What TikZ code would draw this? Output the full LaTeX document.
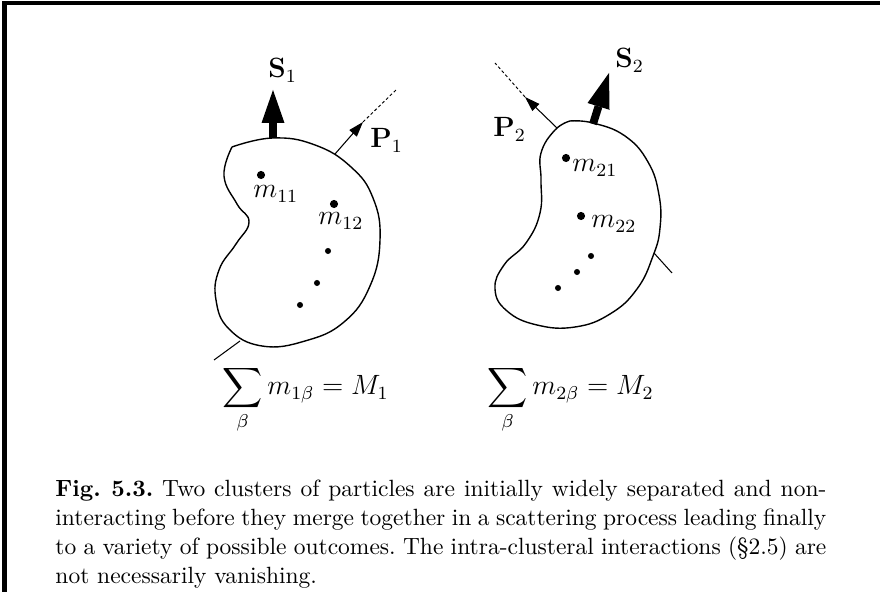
\documentclass[tikz,border=0pt]{standalone}
\usepackage{amsmath}
\usetikzlibrary{arrows.meta}
\begin{document}
\begin{tikzpicture}[x=0.43pt,y=-0.43pt,
  frameline/.style={line width=2.1pt},
  blob/.style={line width=0.6pt},
  thinline/.style={line width=0.45pt},
  parrow/.style={line width=0.45pt,-{Triangle[length=6.5pt,width=4.2pt]}},
  dashline/.style={line width=0.4pt,dash pattern=on 1.3pt off 1pt},
  spinshaft/.style={line width=3.4pt},
  spinhead/.style={fill=black},
  bigdot/.style={fill=black},
  lab/.style={font=\fontsize{12}{14}\selectfont, inner sep=0pt, anchor=base west},
  captxt/.style={anchor=north west, text width=331.5pt, align=justify, inner sep=0pt,
                 font=\fontsize{10.1}{12.5}\selectfont}
]
\useasboundingbox (0,0) rectangle (880,592);
% frame
\coordinate (ftl) at (4.5,3);
\coordinate (ftr) at (880,3);
\coordinate (fbl) at (4.5,592);
\draw[frameline] (ftr) -- (ftl) -- (fbl);

% ---------------- cluster 1 ----------------
\draw[blob] plot[smooth, tension=0.75] coordinates {(232,147) (224,176) (237,204) (249,222) (236,244) (219,270) (216,300) (229,329) (262,346) (305,341) (344,322) (370,286) (380,240) (373,198) (351,167) (315,145) (273,138) (232,147)};

\coordinate (b1s) at (273,138);
\coordinate (b1h) at (273,123);
\coordinate (b1t) at (273,90);
\draw[spinshaft] (b1s) -- (b1h);
\fill[spinhead] (b1t) -- (284.5,123) -- (261.5,123) -- cycle;

\coordinate (p1s) at (335,154);
\coordinate (p1t) at (363,122);
\coordinate (p1e) at (397,89);
\draw[parrow] (p1s) -- (p1t);
\draw[dashline] (p1t) -- (p1e);

\coordinate (x1a) at (240,341);
\coordinate (x1b) at (214,360);
\draw[thinline] (x1a) -- (x1b);

\fill[bigdot] (261,175) circle[radius=1.75pt];
\fill[bigdot] (334,204) circle[radius=1.75pt];
\fill[bigdot] (328,251) circle[radius=1.3pt];
\fill[bigdot] (317,283) circle[radius=1.3pt];
\fill[bigdot] (300,305) circle[radius=1.3pt];

\node[lab] (S1) at (268,78) {$\mathbf{S}_1$};
\node[lab] (P1) at (370,148) {$\mathbf{P}_1$};
\node[lab] (m11) at (253,198) {$m_{11}$};
\node[lab] (m12) at (318,225) {$m_{12}$};
\node[lab] (sum1) at (222,395) {$\displaystyle\sum_{\beta} m_{1\beta} = M_1$};

% ---------------- cluster 2 ----------------
\draw[blob] plot[smooth, tension=0.75] coordinates {(570,121) (593,123) (625,136) (648,162) (659,195) (660,228) (653,256) (637,289) (610,314) (575,327) (537,325) (507,311) (495,289) (504,265) (526,243) (540,213) (541,180) (541,153) (555,130) (570,121)};

\coordinate (b2s) at (593,124);
\coordinate (b2h) at (598.5,106.4);
\coordinate (b2t) at (609,73);
\draw[spinshaft] (b2s) -- (b2h);
\fill[spinhead] (b2t) -- (609.5,109.8) -- (587.5,103) -- cycle;

\coordinate (p2s) at (557,128);
\coordinate (p2t) at (525,97);
\coordinate (p2e) at (495,63);
\draw[parrow] (p2s) -- (p2t);
\draw[dashline] (p2t) -- (p2e);

\coordinate (x2a) at (654,253);
\coordinate (x2b) at (672,273);
\draw[thinline] (x2a) -- (x2b);

\fill[bigdot] (566,158) circle[radius=1.75pt];
\fill[bigdot] (581,216) circle[radius=1.75pt];
\fill[bigdot] (591,256) circle[radius=1.3pt];
\fill[bigdot] (577,272) circle[radius=1.3pt];
\fill[bigdot] (558,288) circle[radius=1.3pt];

\node[lab] (S2) at (615,68) {$\mathbf{S}_2$};
\node[lab] (P2) at (493,137) {$\mathbf{P}_2$};
\node[lab] (m21) at (572,172) {$m_{21}$};
\node[lab] (m22) at (591,228) {$m_{22}$};
\node[lab] (sum2) at (487,395) {$\displaystyle\sum_{\beta} m_{2\beta} = M_2$};

% ---------------- caption ----------------
\node[captxt] (cap) at (55,479) {\frenchspacing\textbf{Fig.~5.3.} Two clusters of particles are initially widely separated and non-\linebreak interacting before they merge together in a scattering process leading finally\linebreak to a variety of possible outcomes. The intra-clusteral interactions (\S2.5) are\linebreak not necessarily vanishing.};
\end{tikzpicture}
\end{document}
